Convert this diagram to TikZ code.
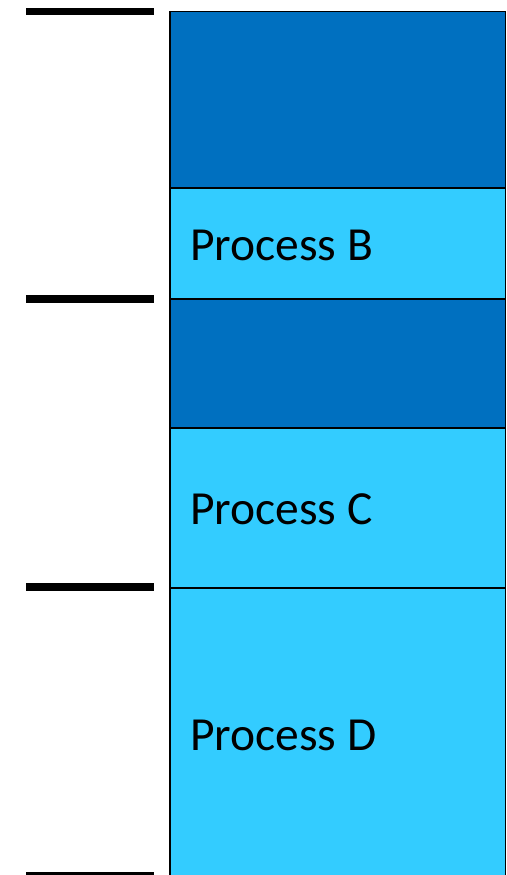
\documentclass[tikz,border=0pt]{standalone}
\usepackage{fontspec}
\setmainfont{Carlito}
\usetikzlibrary{positioning}
\definecolor{busy}{HTML}{0070C0}
\definecolor{proc}{HTML}{33CCFF}
\begin{document}
\begin{tikzpicture}[x=1pt, y=-1pt,
  seg/.style={draw=black, line width=1.5pt, anchor=north west, minimum width=335.5pt, inner sep=0pt, outer sep=0pt},
  tick/.style={line width=7.5pt},
  lbl/.style={font=\fontsize{47.5}{57}\selectfont, inner sep=0pt, anchor=west, yshift=-1.5pt}]
\useasboundingbox (0,0) rectangle (506,875);
% memory segments
\node[seg, fill=busy, minimum height=176.5pt] (s1) at (170,11.5) {};
\node[seg, fill=proc, minimum height=111pt, below=0pt of s1.south west, anchor=north west] (s2) {};
\node[seg, fill=busy, minimum height=129pt, below=0pt of s2.south west, anchor=north west] (s3) {};
\node[seg, fill=proc, minimum height=160pt, below=0pt of s3.south west, anchor=north west] (s4) {};
\node[seg, fill=proc, minimum height=292pt, below=0pt of s4.south west, anchor=north west] (s5) {};
\node[lbl, right=20pt of s2.west] (pb) {Process B};
\node[lbl, right=20pt of s4.west] (pc) {Process C};
\node[lbl, right=20pt of s5.west] (pd) {Process D};
% boundary marks
\foreach \y in {11.5, 299, 587, 875.5}{\draw[tick] (26,\y) -- (154,\y);}
\end{tikzpicture}
\end{document}
